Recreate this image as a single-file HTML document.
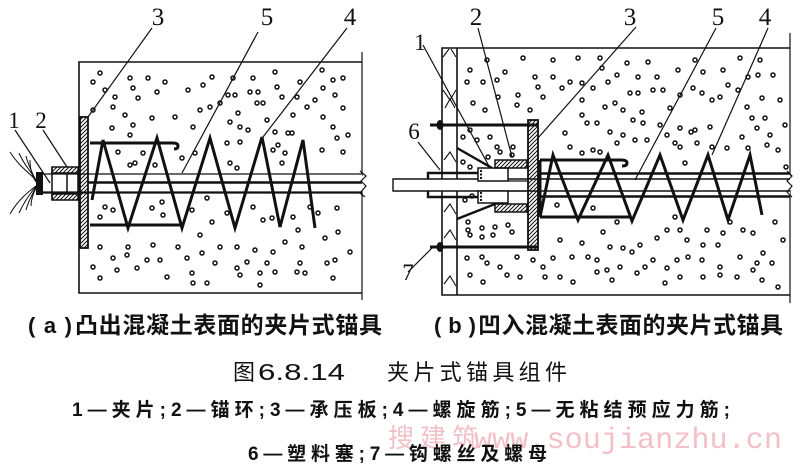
<!DOCTYPE html>
<html><head><meta charset="utf-8"><style>
html,body{margin:0;padding:0;background:#fff;}
svg{display:block;}
.ln{stroke:#111;fill:none;}
.dots circle{fill:#fff;stroke:#111;stroke-width:1.5;r:2px;}
</style></head><body>
<svg width="800" height="473" viewBox="0 0 800 473" xmlns="http://www.w3.org/2000/svg">
<defs>
<pattern id="h" patternUnits="userSpaceOnUse" width="4" height="4">
<path d="M-1,1 L1,-1 M0,4 L4,0 M3,5 L5,3" stroke="#111" stroke-width="1"/>
</pattern>
</defs>
<rect width="800" height="473" fill="#fff"/>

<!-- ============ LEFT DIAGRAM ============ -->
<g class="ln" stroke-width="1.6">
<path d="M362,62 H79 V293 H362"/>
<path d="M362,52 V176 M362,190 V300" stroke-width="1.2"/>
</g>
<g class="dots">
<circle cx="100" cy="73" r="2"/><circle cx="93" cy="82" r="2"/><circle cx="105" cy="90" r="2"/><circle cx="130" cy="78" r="2"/><circle cx="148" cy="78" r="2"/><circle cx="165" cy="82" r="2"/><circle cx="133" cy="88" r="2"/><circle cx="157" cy="92" r="2"/><circle cx="115" cy="97" r="2"/><circle cx="138" cy="98" r="2"/><circle cx="188" cy="90" r="2"/><circle cx="203" cy="85" r="2"/><circle cx="212" cy="77" r="2"/><circle cx="233" cy="78" r="2"/><circle cx="253" cy="78" r="2"/><circle cx="275" cy="72" r="2"/><circle cx="277" cy="87" r="2"/><circle cx="250" cy="92" r="2"/><circle cx="258" cy="92" r="2"/><circle cx="228" cy="95" r="2"/><circle cx="235" cy="95" r="2"/><circle cx="322" cy="70" r="2"/><circle cx="333" cy="80" r="2"/><circle cx="343" cy="78" r="2"/><circle cx="323" cy="88" r="2"/><circle cx="335" cy="95" r="2"/><circle cx="300" cy="82" r="2"/><circle cx="297" cy="97" r="2"/><circle cx="282" cy="97" r="2"/><circle cx="315" cy="100" r="2"/><circle cx="307" cy="107" r="2"/><circle cx="343" cy="108" r="2"/><circle cx="323" cy="117" r="2"/><circle cx="333" cy="127" r="2"/><circle cx="348" cy="135" r="2"/><circle cx="337" cy="138" r="2"/><circle cx="322" cy="150" r="2"/><circle cx="343" cy="152" r="2"/><circle cx="292" cy="133" r="2"/><circle cx="288" cy="133" r="2"/><circle cx="293" cy="115" r="2"/><circle cx="275" cy="132" r="2"/><circle cx="278" cy="145" r="2"/><circle cx="285" cy="153" r="2"/><circle cx="267" cy="120" r="2"/><circle cx="257" cy="103" r="2"/><circle cx="238" cy="113" r="2"/><circle cx="230" cy="122" r="2"/><circle cx="240" cy="127" r="2"/><circle cx="227" cy="143" r="2"/><circle cx="240" cy="142" r="2"/><circle cx="248" cy="130" r="2"/><circle cx="200" cy="110" r="2"/><circle cx="210" cy="107" r="2"/><circle cx="220" cy="103" r="2"/><circle cx="175" cy="117" r="2"/><circle cx="193" cy="127" r="2"/><circle cx="113" cy="107" r="2"/><circle cx="125" cy="115" r="2"/><circle cx="152" cy="118" r="2"/><circle cx="133" cy="125" r="2"/><circle cx="112" cy="128" r="2"/><circle cx="130" cy="135" r="2"/><circle cx="118" cy="152" r="2"/><circle cx="143" cy="153" r="2"/><circle cx="130" cy="165" r="2"/><circle cx="135" cy="163" r="2"/><circle cx="155" cy="165" r="2"/><circle cx="182" cy="158" r="2"/><circle cx="195" cy="153" r="2"/><circle cx="230" cy="163" r="2"/><circle cx="237" cy="168" r="2"/><circle cx="273" cy="150" r="2"/><circle cx="282" cy="163" r="2"/><circle cx="263" cy="103" r="2"/><circle cx="93" cy="110" r="2"/>
<circle cx="105" cy="207" r="2"/><circle cx="113" cy="210" r="2"/><circle cx="100" cy="217" r="2"/><circle cx="162" cy="202" r="2"/><circle cx="152" cy="208" r="2"/><circle cx="163" cy="215" r="2"/><circle cx="192" cy="210" r="2"/><circle cx="207" cy="198" r="2"/><circle cx="227" cy="213" r="2"/><circle cx="212" cy="222" r="2"/><circle cx="253" cy="207" r="2"/><circle cx="263" cy="220" r="2"/><circle cx="272" cy="218" r="2"/><circle cx="293" cy="217" r="2"/><circle cx="318" cy="213" r="2"/><circle cx="337" cy="208" r="2"/><circle cx="338" cy="232" r="2"/><circle cx="325" cy="238" r="2"/><circle cx="298" cy="230" r="2"/><circle cx="310" cy="207" r="2"/><circle cx="200" cy="235" r="2"/><circle cx="220" cy="247" r="2"/><circle cx="237" cy="247" r="2"/><circle cx="255" cy="250" r="2"/><circle cx="273" cy="252" r="2"/><circle cx="285" cy="242" r="2"/><circle cx="302" cy="247" r="2"/><circle cx="350" cy="252" r="2"/><circle cx="335" cy="260" r="2"/><circle cx="100" cy="247" r="2"/><circle cx="128" cy="247" r="2"/><circle cx="127" cy="255" r="2"/><circle cx="153" cy="245" r="2"/><circle cx="178" cy="247" r="2"/><circle cx="113" cy="258" r="2"/><circle cx="147" cy="260" r="2"/><circle cx="160" cy="260" r="2"/><circle cx="187" cy="258" r="2"/><circle cx="202" cy="253" r="2"/><circle cx="215" cy="263" r="2"/><circle cx="247" cy="262" r="2"/><circle cx="267" cy="263" r="2"/><circle cx="300" cy="263" r="2"/><circle cx="93" cy="267" r="2"/><circle cx="117" cy="270" r="2"/><circle cx="100" cy="278" r="2"/><circle cx="137" cy="268" r="2"/><circle cx="167" cy="277" r="2"/><circle cx="192" cy="273" r="2"/><circle cx="193" cy="283" r="2"/><circle cx="207" cy="283" r="2"/><circle cx="237" cy="268" r="2"/><circle cx="240" cy="275" r="2"/><circle cx="260" cy="273" r="2"/><circle cx="260" cy="285" r="2"/><circle cx="275" cy="272" r="2"/><circle cx="297" cy="272" r="2"/><circle cx="305" cy="273" r="2"/><circle cx="333" cy="278" r="2"/><circle cx="327" cy="263" r="2"/>
</g>
<!-- tendon left -->
<rect x="88" y="174" width="274" height="18" fill="#fff"/>
<g class="ln">
<path d="M42,174 H362" stroke-width="1.3"/>
<path d="M88,182.5 H362" stroke-width="2.6"/>
<path d="M42,192.5 H362" stroke-width="2.2"/>
<path d="M360,171 L366,176 L361,181 L366,186 L360,193 L365,197" stroke-width="1.2"/>
</g>
<!-- wires -->
<g class="ln" stroke-width="1">
<path d="M36,180 C28,172 18,165 10,152"/>
<path d="M36,180 C30,170 24,165 19,153"/>
<path d="M36,181 C32,172 28,165 26,156"/>
<path d="M36,182 C32,176 30,168 30,160"/>
<path d="M36,186 C28,192 18,200 10,214"/>
<path d="M36,186 C30,194 24,202 19,213"/>
<path d="M36,187 C32,195 28,202 26,210"/>
<path d="M36,188 C33,194 31,200 31,206"/>
</g>
<rect x="36" y="172" width="7" height="23" fill="#111"/>
<!-- anchor ring left -->
<rect x="52" y="167" width="26" height="6" fill="url(#h)" stroke="#111" stroke-width="1.5"/>
<rect x="52" y="194" width="26" height="6" fill="url(#h)" stroke="#111" stroke-width="1.5"/>
<path class="ln" d="M52,167 V200 M67,173 V194 M78,173 V194" stroke-width="1.5"/>
<!-- plate left -->
<rect x="80" y="117" width="8" height="131" fill="url(#h)" stroke="#111" stroke-width="1.8"/>
<!-- spiral left -->
<g class="ln" stroke-width="3" stroke-linejoin="miter">
<path d="M90,143 H173 q5,0 5,3 q0,3 -4,3"/>
<path d="M90,225 H182"/>
<path d="M92,200 L103,140 L128,228 L157,138 L182,228 L210,138 L235,228 L262,137 L280,227 L303,140 L315,228"/>
</g>
<!-- leaders left -->
<g class="ln" stroke-width="1.2">
<path d="M152,28 L88,117"/>
<path d="M258,32 L182,173"/>
<path d="M347,28 L263,137"/>
<path d="M15,130 L50,183"/>
<path d="M43,130 L67,167"/>
</g>
<g font-family="Liberation Serif, serif" font-size="25" fill="#111" text-anchor="middle">
<text x="158" y="25">3</text>
<text x="267" y="25">5</text>
<text x="350" y="25">4</text>
<text x="14" y="128" font-size="23">1</text>
<text x="41" y="128" font-size="23">2</text>
</g>

<!-- ============ RIGHT DIAGRAM ============ -->
<g class="ln" stroke-width="1.6">
<path d="M790,48 H442 V295 H790"/>
<path d="M457,48 V295"/>
<path d="M790,33 V176 M790,190 V303" stroke-width="1.2"/>
</g>
<!-- wall breaks -->
<g class="ln" stroke-width="1.1">
<path d="M443,57 L449,49 M451,49 L456,57"/>
<path d="M443,90 L450,100 L456,90"/>
<path d="M445,108 L450,99 L455,108"/>
<path d="M444,160 L450,152 L456,162"/>
<path d="M444,212 L450,204 L456,214"/>
<path d="M444,238 L450,230 L456,240"/>
<path d="M444,284 L450,276 L456,286"/>
</g>
<g class="dots">
<circle cx="470" cy="70" r="2"/><circle cx="487" cy="60" r="2"/><circle cx="523" cy="58" r="2"/><circle cx="553" cy="60" r="2"/><circle cx="578" cy="58" r="2"/><circle cx="600" cy="58" r="2"/><circle cx="627" cy="63" r="2"/><circle cx="648" cy="62" r="2"/><circle cx="695" cy="60" r="2"/><circle cx="740" cy="58" r="2"/><circle cx="760" cy="60" r="2"/><circle cx="467" cy="82" r="2"/><circle cx="483" cy="82" r="2"/><circle cx="497" cy="80" r="2"/><circle cx="505" cy="72" r="2"/><circle cx="535" cy="77" r="2"/><circle cx="538" cy="87" r="2"/><circle cx="553" cy="77" r="2"/><circle cx="570" cy="82" r="2"/><circle cx="562" cy="88" r="2"/><circle cx="582" cy="83" r="2"/><circle cx="593" cy="88" r="2"/><circle cx="608" cy="82" r="2"/><circle cx="617" cy="75" r="2"/><circle cx="602" cy="68" r="2"/><circle cx="638" cy="77" r="2"/><circle cx="657" cy="77" r="2"/><circle cx="678" cy="70" r="2"/><circle cx="703" cy="72" r="2"/><circle cx="723" cy="70" r="2"/><circle cx="748" cy="77" r="2"/><circle cx="758" cy="75" r="2"/><circle cx="773" cy="75" r="2"/><circle cx="473" cy="103" r="2"/><circle cx="485" cy="110" r="2"/><circle cx="498" cy="97" r="2"/><circle cx="518" cy="95" r="2"/><circle cx="543" cy="97" r="2"/><circle cx="517" cy="105" r="2"/><circle cx="530" cy="110" r="2"/><circle cx="582" cy="100" r="2"/><circle cx="605" cy="107" r="2"/><circle cx="615" cy="103" r="2"/><circle cx="623" cy="110" r="2"/><circle cx="630" cy="93" r="2"/><circle cx="638" cy="93" r="2"/><circle cx="653" cy="90" r="2"/><circle cx="663" cy="90" r="2"/><circle cx="680" cy="95" r="2"/><circle cx="693" cy="88" r="2"/><circle cx="702" cy="93" r="2"/><circle cx="712" cy="100" r="2"/><circle cx="720" cy="97" r="2"/><circle cx="728" cy="85" r="2"/><circle cx="738" cy="90" r="2"/><circle cx="747" cy="107" r="2"/><circle cx="762" cy="98" r="2"/><circle cx="780" cy="100" r="2"/><circle cx="785" cy="125" r="2"/><circle cx="770" cy="135" r="2"/><circle cx="757" cy="128" r="2"/><circle cx="742" cy="137" r="2"/><circle cx="752" cy="118" r="2"/><circle cx="765" cy="118" r="2"/><circle cx="710" cy="127" r="2"/><circle cx="695" cy="130" r="2"/><circle cx="691" cy="132" r="2"/><circle cx="680" cy="128" r="2"/><circle cx="667" cy="135" r="2"/><circle cx="660" cy="125" r="2"/><circle cx="643" cy="123" r="2"/><circle cx="633" cy="120" r="2"/><circle cx="642" cy="112" r="2"/><circle cx="670" cy="108" r="2"/><circle cx="587" cy="123" r="2"/><circle cx="597" cy="123" r="2"/><circle cx="610" cy="132" r="2"/><circle cx="617" cy="143" r="2"/><circle cx="623" cy="135" r="2"/><circle cx="635" cy="140" r="2"/><circle cx="647" cy="140" r="2"/><circle cx="675" cy="143" r="2"/><circle cx="680" cy="147" r="2"/><circle cx="697" cy="143" r="2"/><circle cx="712" cy="147" r="2"/><circle cx="727" cy="148" r="2"/><circle cx="748" cy="148" r="2"/><circle cx="767" cy="145" r="2"/><circle cx="778" cy="150" r="2"/><circle cx="786" cy="167" r="2"/><circle cx="685" cy="163" r="2"/><circle cx="570" cy="147" r="2"/><circle cx="582" cy="153" r="2"/><circle cx="593" cy="150" r="2"/><circle cx="600" cy="152" r="2"/><circle cx="565" cy="133" r="2"/><circle cx="582" cy="115" r="2"/>
<circle cx="463" cy="137" r="2"/><circle cx="477" cy="140" r="2"/><circle cx="490" cy="137" r="2"/><circle cx="497" cy="147" r="2"/><circle cx="513" cy="147" r="2"/><circle cx="488" cy="157" r="2"/><circle cx="500" cy="152" r="2"/><circle cx="512" cy="155" r="2"/><circle cx="470" cy="130" r="2"/><circle cx="463" cy="162" r="2"/><circle cx="470" cy="167" r="2"/><circle cx="465" cy="200" r="2"/><circle cx="472" cy="196" r="2"/>
<circle cx="593" cy="208" r="2"/><circle cx="557" cy="205" r="2"/><circle cx="603" cy="232" r="2"/><circle cx="617" cy="222" r="2"/><circle cx="582" cy="243" r="2"/><circle cx="560" cy="240" r="2"/><circle cx="610" cy="247" r="2"/><circle cx="623" cy="248" r="2"/><circle cx="640" cy="245" r="2"/><circle cx="657" cy="238" r="2"/><circle cx="667" cy="230" r="2"/><circle cx="675" cy="217" r="2"/><circle cx="680" cy="230" r="2"/><circle cx="687" cy="240" r="2"/><circle cx="707" cy="230" r="2"/><circle cx="703" cy="245" r="2"/><circle cx="723" cy="233" r="2"/><circle cx="730" cy="222" r="2"/><circle cx="743" cy="230" r="2"/><circle cx="753" cy="233" r="2"/><circle cx="763" cy="253" r="2"/><circle cx="775" cy="222" r="2"/><circle cx="783" cy="240" r="2"/><circle cx="718" cy="245" r="2"/><circle cx="740" cy="257" r="2"/><circle cx="772" cy="263" r="2"/><circle cx="757" cy="263" r="2"/><circle cx="753" cy="270" r="2"/><circle cx="720" cy="267" r="2"/><circle cx="702" cy="260" r="2"/><circle cx="688" cy="257" r="2"/><circle cx="677" cy="260" r="2"/><circle cx="667" cy="268" r="2"/><circle cx="653" cy="260" r="2"/><circle cx="645" cy="267" r="2"/><circle cx="632" cy="252" r="2"/><circle cx="620" cy="267" r="2"/><circle cx="607" cy="270" r="2"/><circle cx="597" cy="260" r="2"/><circle cx="588" cy="257" r="2"/><circle cx="572" cy="257" r="2"/><circle cx="553" cy="258" r="2"/><circle cx="543" cy="267" r="2"/><circle cx="533" cy="260" r="2"/><circle cx="517" cy="257" r="2"/><circle cx="500" cy="267" r="2"/><circle cx="487" cy="263" r="2"/><circle cx="482" cy="257" r="2"/><circle cx="467" cy="258" r="2"/><circle cx="470" cy="275" r="2"/><circle cx="483" cy="282" r="2"/><circle cx="507" cy="275" r="2"/><circle cx="520" cy="277" r="2"/><circle cx="545" cy="277" r="2"/><circle cx="560" cy="277" r="2"/><circle cx="573" cy="282" r="2"/><circle cx="597" cy="272" r="2"/><circle cx="612" cy="280" r="2"/><circle cx="637" cy="273" r="2"/><circle cx="665" cy="283" r="2"/><circle cx="680" cy="277" r="2"/><circle cx="703" cy="277" r="2"/><circle cx="720" cy="275" r="2"/><circle cx="737" cy="277" r="2"/><circle cx="762" cy="280" r="2"/><circle cx="778" cy="287" r="2"/>
<circle cx="468" cy="230" r="2"/><circle cx="482" cy="228" r="2"/><circle cx="495" cy="227" r="2"/><circle cx="508" cy="225" r="2"/><circle cx="512" cy="232" r="2"/><circle cx="470" cy="235" r="2"/><circle cx="482" cy="237" r="2"/><circle cx="493" cy="235" r="2"/><circle cx="468" cy="222" r="2"/>
</g>
<!-- tendon right -->
<rect x="538" y="174" width="252" height="23" fill="#fff"/>
<rect x="393" y="179" width="397" height="12" fill="#fff"/>
<g class="ln">
<path d="M538,173.5 H790 M538,196.5 H790" stroke-width="2.4"/>
<path d="M790,179 H393 V191 H790" stroke-width="1.4"/>
<path d="M787,171 L792,176 L787,181 L792,186 L787,192 L792,197" stroke-width="1.2"/>
</g>
<!-- plug -->
<g class="ln" stroke-width="2.4">
<path d="M457,148 L492,168"/>
<path d="M457,219 L495,204"/>
<path d="M428,179 V173 H478"/>
<path d="M428,191 V197 H478"/>
</g>
<!-- wedges -->
<rect x="478" y="168" width="30" height="13" fill="#fff" stroke="#111" stroke-width="1.5"/>
<rect x="478" y="191" width="30" height="12" fill="#fff" stroke="#111" stroke-width="1.5"/>
<path d="M481,170 V180 M481,192 V202" stroke="#111" stroke-width="2" stroke-dasharray="2,1.5"/>
<!-- ring -->
<rect x="495" y="160" width="32" height="8" fill="url(#h)" stroke="#111" stroke-width="1.5"/>
<rect x="495" y="204" width="32" height="8" fill="url(#h)" stroke="#111" stroke-width="1.5"/>
<path class="ln" d="M508,181 H528 M508,191 H528" stroke-width="1.2"/>
<!-- bolts -->
<path class="ln" d="M430,125 H538 M430,247 H538" stroke-width="3"/>
<ellipse cx="440" cy="125" rx="3.5" ry="5" fill="#111"/>
<ellipse cx="440" cy="247" rx="3.5" ry="5" fill="#111"/>
<!-- plate right -->
<rect x="528" y="120" width="10" height="130" fill="url(#h)" stroke="#111" stroke-width="1.8"/>
<!-- spiral right -->
<g class="ln" stroke-width="3" stroke-linejoin="miter">
<path d="M540,160 H621 q6,0 6,3 q0,3 -5,3"/>
<path d="M540,217 H630"/>
<path d="M540,160 V217"/>
<path d="M540,217 L553,155 L578,220 L608,155 L632,221 L660,155 L683,220 L708,155 L728,220 L750,155 L762,215"/>
</g>
<!-- leaders right -->
<g class="ln" stroke-width="1.2">
<path d="M423,45 L490,168"/>
<path d="M478,28 L512,157"/>
<path d="M636,27 L538,138"/>
<path d="M716,28 L635,180"/>
<path d="M768,28 L712,155"/>
<path d="M418,142 L440,170"/>
<path d="M408,272 L433,247"/>
</g>
<g font-family="Liberation Serif, serif" font-size="25" fill="#111" text-anchor="middle">
<text x="420" y="50" font-size="23">1</text>
<text x="476" y="25">2</text>
<text x="630" y="25">3</text>
<text x="718" y="25">5</text>
<text x="765" y="25">4</text>
<text x="414" y="139" font-size="23">6</text>
<text x="408" y="280" font-size="23">7</text>
</g>

<!-- ============ CAPTIONS ============ -->
<g fill="#111" font-family="Liberation Sans, Noto Sans CJK SC, sans-serif">
<text x="28" y="333" font-size="22" font-weight="bold" textLength="44" lengthAdjust="spacing">(a)</text>
<text x="75" y="333" font-size="23" font-weight="bold" textLength="307" lengthAdjust="spacing">凸出混凝土表面的夹片式锚具</text>
<text x="434" y="333" font-size="22" font-weight="bold" textLength="42" lengthAdjust="spacing">(b)</text>
<text x="478" y="333" font-size="23" font-weight="bold" textLength="305" lengthAdjust="spacing">凹入混凝土表面的夹片式锚具</text>

<text x="233" y="380" font-size="22">图</text>
<text x="258" y="380" font-size="23" textLength="87" lengthAdjust="spacingAndGlyphs">6.8.14</text>
<text x="387" y="380" font-size="22" textLength="180" lengthAdjust="spacing">夹片式锚具组件</text>
</g>
<!-- watermark -->
<g fill="#f3c0c8">
<text x="388" y="447" font-size="26" font-family="Liberation Sans, Noto Sans CJK SC, sans-serif" textLength="90" lengthAdjust="spacing">搜建筑</text>
<text x="474" y="448" font-size="30" font-family="Liberation Mono, monospace" textLength="308" lengthAdjust="spacingAndGlyphs">www.soujianzhu.cn</text>
</g>
<g fill="#111" font-family="Liberation Sans, Noto Sans CJK SC, sans-serif">
<text x="72" y="416" font-size="19" font-weight="bold" textLength="658" lengthAdjust="spacing">1—夹片;2—锚环;3—承压板;4—螺旋筋;5—无粘结预应力筋;</text>
<text x="248" y="460" font-size="19" font-weight="bold" textLength="299" lengthAdjust="spacing">6—塑料塞;7—钩螺丝及螺母</text>
</g>
</svg>
</body></html>
